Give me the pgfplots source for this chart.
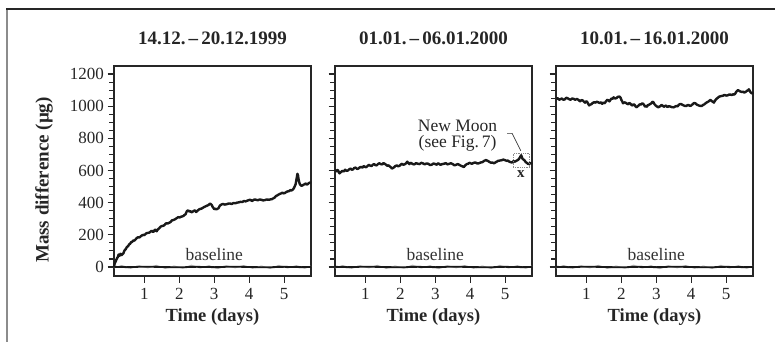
\documentclass[border=0pt]{standalone}
\usepackage{pgfplots}
\pgfplotsset{compat=1.18}
\usepackage{fontspec}
\setmainfont{Liberation Serif}

\pgfplotsset{
  panel/.style={
    scale only axis, width=197pt, height=210pt,
    xmin=0.13, xmax=5.77, ymin=-56, ymax=1250,
    xtick={1,2,3,4,5}, ytick={0,200,...,1200},
    minor y tick num=3,
    tick align=outside, xtick pos=left, ytick pos=left,
    major tick length=6.5pt, minor tick length=5pt,
    axis line style={line width=1.3pt, black!85},
    every tick/.style={line width=1.1pt, black!85},
    /pgf/number format/assume math mode=true,
    /pgf/number format/1000 sep={},
    tick label style={font=\fontsize{17}{19}\selectfont, black!85},
    xticklabel style={yshift=-2pt},
    title style={at={(0.5,1)}, anchor=south, inner sep=0pt, yshift=15pt,
                 font=\fontsize{19}{21}\selectfont\bfseries, black!85},
    xlabel style={at={(axis description cs:0.5,0)}, anchor=center, yshift=-41pt,
                 font=\fontsize{18.5}{21}\selectfont\bfseries, black!85},
    ylabel style={at={(axis description cs:-0.355,0.457)}, anchor=center,
                 font=\fontsize{19}{21}\selectfont\bfseries, black!85},
    xlabel={Time (days)},
    clip=false,
  },
  dataline/.style={black!90, line width=2.4pt, line join=round},
  baseline/.style={black!90, line width=1.8pt},
  basenoise/.style={black!35, line width=1pt},
}

\pgfplotstableread{
x y
0.13 -6
0.35 9
0.60 -8
0.85 7
1.10 -5
1.35 10
1.60 -9
1.85 6
2.10 -7
2.35 11
2.60 -6
2.85 8
3.10 -10
3.35 7
3.60 -5
3.85 9
4.10 -8
4.35 6
4.60 -9
4.85 10
5.10 -6
5.35 8
5.60 -7
5.77 5
}\noise

\pgfplotstableread{
x y
0.13 1
0.50 -1
1.00 2
1.50 0
2.00 -2
2.50 1
3.00 -1
3.50 2
4.00 0
4.50 -2
5.00 1
5.50 -1
5.77 0
}\base

\pgfplotstableread{
x y
0.13 0
0.14 12
0.15 20
0.165 30
0.18 35
0.195 45
0.21 50
0.225 58
0.24 62
0.255 74
0.27 78
0.285 70
0.30 72
0.315 82
0.33 80
0.345 74
0.36 76
0.38 82
0.40 85
0.42 98
0.44 105
0.47 112
0.50 125
0.53 128
0.56 140
0.59 144
0.62 155
0.65 156
0.68 165
0.71 164
0.75 172
0.78 180
0.82 185
0.86 184
0.90 192
0.93 196
0.97 200
1.00 198
1.03 205
1.06 210
1.10 212
1.14 214
1.18 220
1.21 226
1.25 218
1.28 224
1.30 232
1.33 230
1.35 222
1.38 232
1.42 240
1.46 250
1.50 255
1.54 256
1.58 262
1.62 272
1.66 270
1.70 274
1.75 280
1.79 290
1.83 292
1.87 296
1.90 300
1.94 306
1.97 310
2.01 308
2.05 313
2.08 314
2.12 318
2.15 324
2.18 328
2.20 340
2.22 348
2.25 352
2.28 345
2.31 348
2.35 340
2.38 344
2.42 350
2.45 352
2.48 342
2.51 348
2.55 355
2.58 360
2.62 362
2.66 366
2.70 372
2.74 376
2.78 380
2.82 384
2.85 388
2.88 394
2.90 392
2.93 385
2.95 375
2.98 366
3.00 360
3.03 362
3.06 358
3.09 362
3.12 365
3.15 378
3.18 385
3.22 390
3.25 392
3.30 388
3.35 390
3.40 394
3.45 395
3.50 392
3.55 398
3.60 396
3.65 400
3.70 402
3.75 405
3.80 404
3.85 410
3.90 408
3.95 413
3.98 415
4.02 418
4.05 416
4.08 410
4.12 416
4.15 420
4.20 418
4.25 415
4.30 420
4.35 418
4.40 414
4.45 416
4.50 420
4.55 418
4.60 420
4.65 422
4.68 426
4.72 430
4.76 440
4.80 445
4.84 450
4.88 455
4.92 458
4.95 462
4.98 458
5.02 460
5.06 466
5.10 470
5.14 472
5.18 478
5.22 476
5.25 482
5.28 490
5.30 500
5.33 515
5.35 540
5.37 565
5.38 580
5.40 568
5.41 550
5.43 530
5.45 515
5.48 508
5.50 505
5.53 508
5.56 512
5.59 515
5.62 520
5.65 512
5.68 516
5.71 522
5.74 525
5.77 522
}\pone

\pgfplotstableread{
x y
0.13 605
0.155 598
0.18 595
0.20 603
0.22 600
0.24 590
0.26 582
0.28 588
0.30 590
0.33 596
0.35 598
0.38 594
0.42 605
0.46 598
0.50 600
0.54 608
0.58 612
0.61 604
0.65 608
0.68 616
0.72 618
0.76 610
0.80 612
0.84 620
0.88 622
0.92 618
0.95 628
0.98 624
1.02 620
1.06 628
1.10 635
1.14 630
1.18 628
1.21 636
1.25 640
1.28 634
1.32 632
1.36 640
1.40 645
1.44 640
1.48 638
1.52 646
1.55 642
1.58 638
1.62 630
1.66 632
1.70 625
1.73 620
1.76 612
1.79 616
1.82 620
1.86 628
1.90 632
1.94 626
1.98 630
2.02 638
2.05 642
2.08 636
2.12 638
2.16 644
2.20 655
2.23 646
2.26 640
2.29 648
2.32 645
2.36 640
2.40 638
2.45 646
2.50 642
2.55 640
2.60 648
2.65 644
2.70 638
2.75 644
2.80 642
2.85 634
2.90 636
2.95 644
3.00 640
3.04 636
3.08 645
3.12 640
3.15 635
3.20 640
3.25 642
3.30 646
3.35 638
3.40 642
3.45 645
3.50 640
3.55 632
3.60 636
3.65 640
3.70 634
3.75 628
3.78 626
3.82 622
3.86 632
3.90 640
3.94 642
3.98 648
4.02 644
4.05 642
4.10 648
4.15 650
4.20 644
4.25 645
4.30 650
4.35 652
4.40 660
4.45 665
4.48 662
4.52 658
4.56 652
4.60 648
4.64 650
4.68 645
4.72 650
4.76 655
4.80 660
4.85 662
4.90 664
4.95 668
5.00 664
5.05 660
5.08 662
5.12 655
5.16 652
5.20 650
5.24 658
5.28 655
5.32 660
5.36 665
5.39 670
5.42 680
5.44 688
5.46 695
5.48 684
5.50 672
5.53 668
5.56 662
5.59 652
5.62 648
5.65 642
5.68 640
5.71 646
5.74 645
5.77 640
}\ptwo

\pgfplotstableread{
x y
0.14 1045
0.18 1050
0.22 1040
0.26 1044
0.30 1048
0.34 1040
0.38 1042
0.42 1052
0.46 1050
0.50 1044
0.55 1040
0.59 1048
0.63 1046
0.68 1040
0.73 1045
0.78 1038
0.82 1030
0.86 1038
0.90 1035
0.93 1028
0.96 1022
0.99 1030
1.02 1028
1.05 1015
1.08 1005
1.11 1010
1.14 1012
1.18 1020
1.22 1025
1.26 1022
1.30 1028
1.34 1024
1.38 1020
1.42 1024
1.45 1015
1.49 1022
1.52 1018
1.56 1030
1.60 1040
1.63 1036
1.66 1030
1.69 1040
1.72 1048
1.75 1046
1.78 1055
1.82 1048
1.86 1050
1.90 1058
1.95 1060
1.98 1052
2.00 1040
2.03 1028
2.05 1018
2.08 1024
2.12 1022
2.16 1016
2.20 1012
2.23 1020
2.26 1016
2.29 1008
2.32 1004
2.35 1012
2.38 1008
2.41 998
2.44 993
2.47 1000
2.50 1005
2.53 1012
2.56 1010
2.60 1018
2.63 1014
2.66 1004
2.68 998
2.70 1002
2.73 997
2.76 1006
2.80 1010
2.83 1014
2.86 1018
2.89 1028
2.92 1024
2.95 1012
2.98 1005
3.02 998
3.06 993
3.09 998
3.12 1000
3.15 1008
3.18 1004
3.22 996
3.25 1001
3.28 1004
3.32 995
3.36 1000
3.40 998
3.45 994
3.50 993
3.54 998
3.58 1002
3.61 998
3.64 1008
3.67 1012
3.70 1014
3.74 1010
3.78 1005
3.82 1002
3.86 1001
3.89 1006
3.92 1008
3.96 1002
4.00 1004
4.03 1010
4.06 1016
4.09 1020
4.12 1018
4.16 1010
4.20 1006
4.25 1002
4.30 1001
4.34 1008
4.38 1012
4.42 1020
4.46 1025
4.50 1030
4.55 1039
4.58 1034
4.60 1030
4.63 1026
4.65 1022
4.68 1034
4.72 1045
4.76 1052
4.80 1059
4.84 1062
4.88 1064
4.92 1066
4.95 1070
5.00 1066
5.05 1068
5.08 1072
5.12 1072
5.16 1070
5.20 1074
5.23 1072
5.26 1078
5.28 1086
5.30 1092
5.32 1096
5.34 1100
5.37 1096
5.40 1092
5.43 1090
5.46 1088
5.49 1090
5.52 1085
5.55 1088
5.58 1092
5.60 1096
5.62 1098
5.64 1102
5.65 1105
5.67 1098
5.69 1090
5.71 1084
5.73 1080
5.75 1082
5.77 1076
}\pthree

\begin{document}
\begin{tikzpicture}
\useasboundingbox (0,0) rectangle (775pt,342pt);
\draw[black!45, line width=2pt] (7pt,-2pt) -- (7pt,333pt);
\draw[black!85, line width=1.2pt] (6pt,333pt) -- (777pt,333pt);

\begin{axis}[panel, at={(114pt,66pt)}, anchor=south west,
  title={14.12.\,–\,20.12.1999}, ylabel={Mass difference (µg)}]
  \addplot[basenoise] table {\noise};
  \addplot[baseline] table {\base};
  \addplot[dataline] table {\pone};
  \node[font=\fontsize{17.5}{19}\selectfont, black!80] at (axis cs:3.0,75) {baseline};
\end{axis}

\begin{axis}[panel, at={(335pt,66pt)}, anchor=south west,
  title={01.01.\,–\,06.01.2000}, yticklabels={}]
  \addplot[basenoise] table {\noise};
  \addplot[baseline] table {\base};
  \addplot[dataline] table {\ptwo};
  \node[font=\fontsize{17.5}{19}\selectfont, black!80] at (axis cs:3.0,75) {baseline};
  \draw[black!45, densely dotted, line width=0.8pt] (axis cs:5.24,622) rectangle (axis cs:5.70,708);
  \draw[black!80, line width=0.7pt] (axis cs:5.06,831) -- (axis cs:5.20,831) -- (axis cs:5.45,723);
  \node[font=\fontsize{17.5}{18}\selectfont, black!85, align=center, inner sep=0pt] at (axis cs:3.64,815)
    {New Moon\\[-2pt](see Fig.\,7)};
  \node[font=\fontsize{15}{16}\selectfont\bfseries, black!85] at (axis cs:5.45,575) {x};
\end{axis}

\begin{axis}[panel, at={(556pt,66pt)}, anchor=south west,
  title={10.01.\,–\,16.01.2000}, yticklabels={}]
  \addplot[basenoise] table {\noise};
  \addplot[baseline] table {\base};
  \addplot[dataline] table {\pthree};
  \node[font=\fontsize{17.5}{19}\selectfont, black!80] at (axis cs:3.0,75) {baseline};
\end{axis}
\end{tikzpicture}
\end{document}
